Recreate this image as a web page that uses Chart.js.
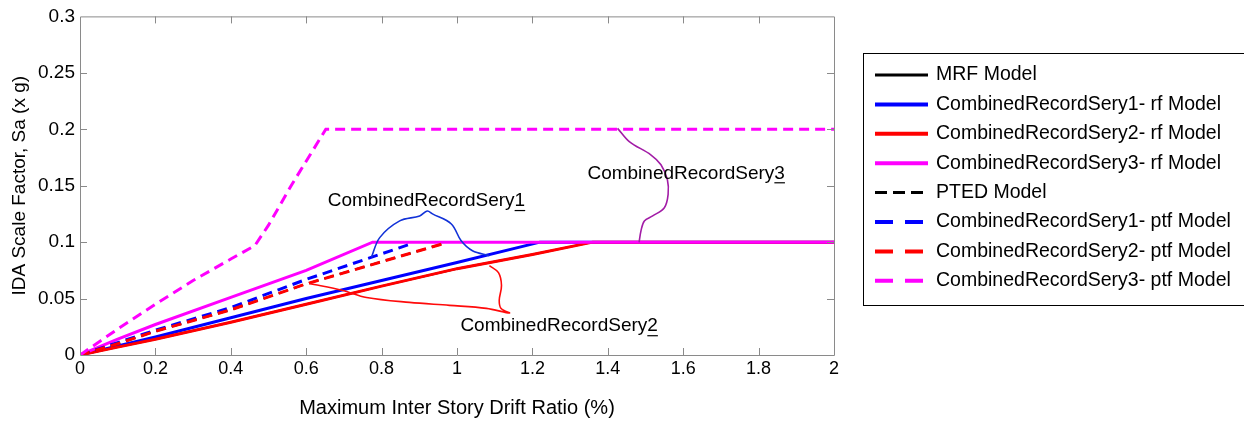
<!DOCTYPE html>
<html>
<head>
<meta charset="utf-8">
<script src="https://cdn.jsdelivr.net/npm/chart.js@4.4.1/dist/chart.umd.min.js"></script>
<style>
  html, body { margin: 0; padding: 0; background: #ffffff; }
  canvas { display: block; }
</style>
</head>
<body>
<canvas id="ida" width="1244" height="423"></canvas>
<script>
// IDA curves: maximum inter-story drift ratio (%) against scale factor Sa (x g)
const mrfDrift  = [0, 0.1, 0.2, 0.4, 0.6, 0.8, 1.0, 1.2, 1.36, 2.0];
const mrfSa     = [0, 0.007, 0.014, 0.029, 0.045, 0.061, 0.0765, 0.089, 0.1, 0.1];

const rf1Drift  = [0, 0.1, 0.2, 0.4, 0.6, 0.8, 1.0, 1.22, 2.0];
const rf1Sa     = [0, 0.008, 0.016, 0.033, 0.05, 0.066, 0.082, 0.1, 0.1];

const rf2Drift  = [0, 0.1, 0.2, 0.4, 0.6, 0.8, 1.0, 1.2, 1.36, 2.0];
const rf2Sa     = [0, 0.007, 0.014, 0.029, 0.045, 0.061, 0.0765, 0.089, 0.1, 0.1];

const rf3Drift  = [0, 0.1, 0.2, 0.4, 0.6, 0.776, 2.0];
const rf3Sa     = [0, 0.014, 0.027, 0.051, 0.075, 0.1, 0.1];

const ptedDrift = [0, 0.1, 0.2, 0.4, 0.6, 0.967];
const ptedSa    = [0, 0.010, 0.021, 0.040, 0.063, 0.099];

const ptf1Drift = [0, 0.1, 0.2, 0.4, 0.6, 0.874];
const ptf1Sa    = [0, 0.011, 0.022, 0.042, 0.067, 0.098];

const ptf2Drift = [0, 0.1, 0.2, 0.4, 0.6, 0.967];
const ptf2Sa    = [0, 0.010, 0.021, 0.040, 0.063, 0.099];

const ptf3Drift = [0, 0.1, 0.2, 0.3, 0.4, 0.464, 0.5, 0.56, 0.652, 2.0];
const ptf3Sa    = [0, 0.023, 0.045, 0.066, 0.085, 0.097, 0.115, 0.15, 0.2, 0.2];

const seriesNames = [
  'MRF Model',
  'CombinedRecordSery1- rf Model',
  'CombinedRecordSery2- rf Model',
  'CombinedRecordSery3- rf Model',
  'PTED Model',
  'CombinedRecordSery1- ptf Model',
  'CombinedRecordSery2- ptf Model',
  'CombinedRecordSery3- ptf Model'
];

// hand-drawn braces grouping the record series
const brace1Drift = [0.773, 0.795, 0.848, 0.901, 0.921, 0.935, 0.985, 1.011, 1.041, 1.086];
const brace1Sa    = [0.0865, 0.104, 0.1188, 0.1232, 0.1276, 0.125, 0.1161, 0.1012, 0.0924, 0.088];
const brace2Drift = [0.608, 0.697, 0.760, 0.874, 0.980, 1.078, 1.139, 1.117, 1.112, 1.118, 1.110, 1.086];
const brace2Sa    = [0.0633, 0.0572, 0.051, 0.0466, 0.044, 0.0413, 0.0372, 0.0411, 0.0484, 0.0616, 0.073, 0.0792];
const brace3Drift = [1.426, 1.457, 1.514, 1.541, 1.558, 1.560, 1.550, 1.519, 1.497, 1.488, 1.483];
const brace3Sa    = [0.2008, 0.1891, 0.1774, 0.1686, 0.1555, 0.1423, 0.1305, 0.1232, 0.1188, 0.11, 0.0997];

const braceLabels = ['CombinedRecordSery1', 'CombinedRecordSery2', 'CombinedRecordSery3'];
const braceLabelAt = [[0.657, 0.1364], [1.009, 0.0255], [1.346, 0.161]];

const xTickLabels = ['0', '0.2', '0.4', '0.6', '0.8', '1', '1.2', '1.4', '1.6', '1.8', '2'];
const yTickLabels = ['0', '0.05', '0.1', '0.15', '0.2', '0.25', '0.3'];

const FONT = "'Liberation Sans', Arial, Helvetica, sans-serif";
const BLUE = '#0000ff', RED = '#ff0000', MAG = '#ff00ff', BLACK = '#000000';

const pts = (xs, ys) => xs.map((x, i) => ({ x: x, y: ys[i] }));

const series = [
  { d: mrfDrift,  s: mrfSa,  color: BLACK, width: 2, dash: [],      lw: 3, ldash: [] },
  { d: rf1Drift,  s: rf1Sa,  color: BLUE,  width: 3, dash: [],      lw: 4, ldash: [] },
  { d: rf2Drift,  s: rf2Sa,  color: RED,   width: 3, dash: [],      lw: 4, ldash: [] },
  { d: rf3Drift,  s: rf3Sa,  color: MAG,   width: 3, dash: [],      lw: 4, ldash: [] },
  { d: ptedDrift, s: ptedSa, color: BLACK, width: 2, dash: [10, 6], lw: 3, ldash: [12, 6] },
  { d: ptf1Drift, s: ptf1Sa, color: BLUE,  width: 3, dash: [10, 6], lw: 4, ldash: [18, 12] },
  { d: ptf2Drift, s: ptf2Sa, color: RED,   width: 3, dash: [10, 6], lw: 4, ldash: [18, 12] },
  { d: ptf3Drift, s: ptf3Sa, color: MAG,   width: 3, dash: [10, 6], lw: 4, ldash: [18, 12] }
];

const datasets = series.map((sr, i) => ({
  label: seriesNames[i],
  data: pts(sr.d, sr.s),
  borderColor: sr.color,
  borderWidth: sr.width,
  borderDash: sr.dash,
  pointRadius: 0,
  fill: false,
  tension: 0,
  order: -i
}));

const braces = [
  { d: brace1Drift, s: brace1Sa, color: '#1232d8' },
  { d: brace2Drift, s: brace2Sa, color: '#ff0a0a' },
  { d: brace3Drift, s: brace3Sa, color: '#a21ca6' }
];
braces.forEach((b, k) => datasets.push({
  label: 'brace' + (k + 1),
  data: pts(b.d, b.s),
  borderColor: b.color,
  borderWidth: 1.6,
  pointRadius: 0,
  fill: false,
  tension: 0.35,
  order: -20 - k
}));

// axes frame with inward tick marks on all four sides
const framePlugin = {
  id: 'frame',
  afterDatasetsDraw(chart) {
    const ctx = chart.ctx;
    const { left, right, top, bottom } = chart.chartArea;
    const xs = chart.scales.x, ys = chart.scales.y;
    const tl = 7;
    ctx.save();
    ctx.strokeStyle = '#8a8a8a';
    ctx.lineWidth = 1;
    ctx.beginPath();
    ctx.rect(left + 0.5, top + 0.5, right - left, bottom - top);
    xs.ticks.forEach((t, i) => {
      if (i === 0 || i === xs.ticks.length - 1) return;
      const p = Math.round(xs.getPixelForValue(t.value)) + 0.5;
      ctx.moveTo(p, bottom); ctx.lineTo(p, bottom - tl);
      ctx.moveTo(p, top); ctx.lineTo(p, top + tl);
    });
    ys.ticks.forEach((t, i) => {
      if (i === 0 || i === ys.ticks.length - 1) return;
      const p = Math.round(ys.getPixelForValue(t.value)) + 0.5;
      ctx.moveTo(left, p); ctx.lineTo(left + tl, p);
      ctx.moveTo(right, p); ctx.lineTo(right - tl, p);
    });
    ctx.stroke();

    // brace captions, trailing digit underlined
    ctx.fillStyle = '#000000';
    ctx.strokeStyle = '#000000';
    ctx.font = '19px ' + FONT;
    ctx.textBaseline = 'middle';
    ctx.textAlign = 'left';
    braceLabels.forEach((txt, i) => {
      const x = xs.getPixelForValue(braceLabelAt[i][0]);
      const y = ys.getPixelForValue(braceLabelAt[i][1]);
      ctx.fillText(txt, x, y);
      const w0 = ctx.measureText(txt.slice(0, -1)).width;
      const wd = ctx.measureText(txt.slice(-1)).width;
      ctx.beginPath();
      ctx.lineWidth = 1.2;
      ctx.moveTo(x + w0, y + 9.5);
      ctx.lineTo(x + w0 + wd, y + 9.5);
      ctx.stroke();
    });
    ctx.restore();
  }
};

// boxed legend on the right
const legendPlugin = {
  id: 'boxLegend',
  afterDraw(chart) {
    const ctx = chart.ctx;
    const boxL = 863, boxT = 53, boxB = 305;
    const rowY0 = 75, rowStep = 29.4;
    ctx.save();
    ctx.strokeStyle = '#000000';
    ctx.lineWidth = 1;
    ctx.strokeRect(boxL + 0.5, boxT + 0.5, 1260 - boxL, boxB - boxT);
    ctx.font = '19.5px ' + FONT;
    ctx.textBaseline = 'middle';
    ctx.textAlign = 'left';
    series.forEach((sr, i) => {
      const y = rowY0 + i * rowStep;
      ctx.beginPath();
      ctx.strokeStyle = sr.color;
      ctx.lineWidth = sr.lw;
      ctx.setLineDash(sr.ldash);
      ctx.moveTo(875, y);
      ctx.lineTo(sr.ldash.length ? 923 : 928, y);
      ctx.stroke();
      ctx.setLineDash([]);
      ctx.fillStyle = '#000000';
      ctx.fillText(chart.data.datasets[i].label, 936, y);
    });
    ctx.restore();
  }
};

new Chart(document.getElementById('ida'), {
  type: 'line',
  data: { datasets: datasets },
  options: {
    responsive: false,
    animation: false,
    devicePixelRatio: 1,
    layout: { padding: { left: 0, top: 14, right: 410, bottom: 0 } },
    plugins: { legend: { display: false }, tooltip: { enabled: false } },
    scales: {
      x: {
        type: 'linear',
        min: 0, max: 2,
        ticks: {
          stepSize: 0.2,
          color: '#000000',
          font: { family: FONT, size: 18 },
          padding: 3,
          maxRotation: 0,
          callback: (v, i) => xTickLabels[i]
        },
        grid: { display: false, drawTicks: false },
        border: { display: false },
        title: {
          display: true,
          text: 'Maximum Inter Story Drift Ratio (%)',
          color: '#000000',
          font: { family: FONT, size: 20 },
          padding: { top: 0, bottom: 3 }
        },
        afterFit(scale) { scale.height = 68; }
      },
      y: {
        type: 'linear',
        min: 0, max: 0.3,
        ticks: {
          stepSize: 0.05,
          color: '#000000',
          font: { family: FONT, size: 19 },
          padding: 5,
          callback: (v, i) => yTickLabels[i]
        },
        grid: { display: false, drawTicks: false },
        border: { display: false },
        title: {
          display: true,
          text: 'IDA Scale Factor, Sa (x g)',
          color: '#000000',
          font: { family: FONT, size: 19 },
          padding: { top: 8, bottom: 0 }
        },
        afterFit(scale) { scale.width = 80; }
      }
    }
  },
  plugins: [framePlugin, legendPlugin]
});
</script>
</body>
</html>
